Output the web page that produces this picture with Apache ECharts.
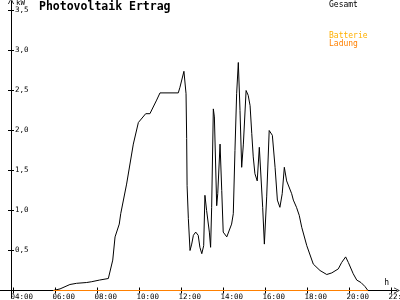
<!DOCTYPE html>
<html><head><meta charset="utf-8">
<script src="https://cdn.jsdelivr.net/npm/echarts@6/dist/echarts.min.js"></script>
<style>html,body{margin:0;padding:0;background:#fff}#c{width:400px;height:300px}</style>
</head><body><div id="c"></div>
<script>
const chartTitle = 'Photovoltaik Ertrag';
const yUnit = 'kW';
const xUnit = 'h';
const timeTicks = [4, 6, 8, 10, 12, 14, 16, 18, 20, 22];
const kwTicks = [0.5, 1, 1.5, 2, 2.5, 3, 3.5];

const gesamtHours = [5.92, 6.24, 6.71, 7.03, 7.51, 7.75, 8.11, 8.54, 8.62, 8.75, 8.86, 9.06, 9.13, 9.41, 9.73, 9.97, 10.32, 10.52, 10.84, 11.0, 11.87, 11.95, 12.14, 12.24, 12.27, 12.29, 12.35, 12.43, 12.51, 12.59, 12.70, 12.82, 12.90, 12.99, 13.08, 13.14, 13.22, 13.35, 13.41, 13.46, 13.54, 13.59, 13.70, 13.75, 13.86, 13.94, 14.01, 14.18, 14.41, 14.49, 14.57, 14.65, 14.73, 14.81, 14.89, 14.97, 15.10, 15.20, 15.29, 15.37, 15.44, 15.52, 15.63, 15.73, 15.81, 15.89, 15.97, 16.08, 16.20, 16.35, 16.48, 16.59, 16.71, 16.82, 16.92, 17.03, 17.27, 17.35, 17.50, 17.63, 17.75, 17.99, 18.30, 18.62, 18.94, 19.18, 19.49, 19.65, 19.84, 19.97, 20.20, 20.37, 20.57, 20.76, 20.90];
const gesamtKw = [0, 0.02, 0.075, 0.09, 0.10, 0.11, 0.13, 0.15, 0.17, 0.38, 0.67, 0.83, 0.96, 1.33, 1.83, 2.10, 2.21, 2.21, 2.38, 2.47, 2.47, 2.54, 2.74, 2.46, 1.90, 1.31, 0.90, 0.50, 0.58, 0.69, 0.73, 0.69, 0.54, 0.46, 0.56, 1.19, 1.00, 0.73, 0.54, 1.04, 2.27, 2.17, 1.06, 1.21, 1.83, 1.25, 0.73, 0.67, 0.83, 0.96, 1.75, 2.46, 2.85, 2.25, 1.54, 1.83, 2.50, 2.44, 2.31, 1.96, 1.67, 1.46, 1.37, 1.79, 1.81, 1.04, 0.58, 1.17, 2.00, 1.94, 1.54, 1.13, 1.04, 1.21, 1.54, 1.37, 1.21, 1.13, 1.04, 0.94, 0.79, 0.56, 0.33, 0.25, 0.20, 0.22, 0.27, 0.35, 0.42, 0.35, 0.21, 0.13, 0.10, 0.05, 0];

const batterieHours = [];
const batterieKw = [];
const ladungHours = [5.92, 20.90];
const ladungKw = [0, 0];

const pairs = (xs, ys) => xs.map((x, i) => [x, ys[i]]);
const pad2 = v => (v < 10 ? '0' : '') + v;
const mono = 'DejaVu Sans Mono';
const arrow = 'path://M5,0 L10,10 L8.6,10 L5,2.2 L1.4,10 L0,10 Z';

const chart = echarts.init(document.getElementById('c'), null, {renderer: 'canvas'});
chart.setOption({
  animation: false,
  backgroundColor: '#fff',
  title: {
    text: chartTitle, left: 39, top: 1, padding: 0,
    textStyle: {fontFamily: mono, fontWeight: 'bold', fontSize: 11.5, color: '#000'}
  },
  legend: [
    {data: [{name: 'Gesamt', textStyle: {color: '#000'}}], left: 324, top: 1, padding: 0,
     icon: 'none', itemWidth: 0, itemHeight: 8, selectedMode: false,
     textStyle: {fontFamily: mono, fontSize: 8, lineHeight: 8}},
    {data: [{name: 'Batterie', textStyle: {color: '#ffb000'}}, {name: 'Ladung', textStyle: {color: '#ff8000'}}],
     orient: 'vertical', left: 324, top: 32, padding: 0, itemGap: 0,
     icon: 'none', itemWidth: 0, itemHeight: 8, selectedMode: false,
     textStyle: {fontFamily: mono, fontSize: 8, lineHeight: 8}}
  ],
  grid: {left: 0, right: 3, top: 1, bottom: 2, containLabel: false, outerBoundsMode: 'none'},
  xAxis: [{
    type: 'value', min: 3.381, max: 22.286, position: 'bottom',
    name: xUnit, nameLocation: 'end', nameGap: -8,
    nameTextStyle: {fontFamily: mono, fontSize: 8, color: '#000', align: 'right', verticalAlign: 'bottom', padding: [0, 0, 4, 0]},
    axisLine: {onZero: true, lineStyle: {color: '#000', width: 1}, symbol: ['none', arrow], symbolSize: [6, 6]},
    axisTick: {customValues: timeTicks, length: 3, lineStyle: {color: '#000'}},
    axisLabel: {customValues: timeTicks, fontFamily: mono, fontSize: 7.5, color: '#000', margin: -5,
      align: 'left', padding: [0, 0, 0, -2.5], hideOverlap: false, formatter: v => pad2(v) + ':00'},
    splitLine: {show: false}
  }, {
    type: 'value', min: 3.381, max: 22.286, position: 'bottom',
    axisLine: {show: false, onZero: true},
    axisTick: {customValues: timeTicks, inside: true, length: 3, lineStyle: {color: '#000'}},
    axisLabel: {show: false}, splitLine: {show: false}
  }],
  yAxis: [{
    type: 'value', min: -0.09375, max: 3.61875, position: 'left', offset: -11,
    name: yUnit, nameLocation: 'end', nameGap: 0,
    nameTextStyle: {fontFamily: mono, fontSize: 7.5, color: '#000', align: 'left', verticalAlign: 'top', padding: [0, 0, 0, 5]},
    axisLine: {onZero: false, lineStyle: {color: '#000', width: 1}, symbol: ['none', arrow], symbolSize: [6, 6]},
    axisTick: {customValues: kwTicks, length: 3, lineStyle: {color: '#000'}},
    axisLabel: {customValues: kwTicks, inside: true, margin: 4, fontFamily: mono, fontSize: 7.5, color: '#000',
      formatter: v => v.toFixed(1).replace('.', ',')},
    splitLine: {show: false}
  }, {
    type: 'value', min: -0.09375, max: 3.61875, position: 'left', offset: -11,
    axisLine: {show: false, onZero: false},
    axisTick: {customValues: kwTicks, inside: true, length: 3, lineStyle: {color: '#000'}},
    axisLabel: {show: false}, splitLine: {show: false}
  }],
  series: [
    {name: 'Gesamt', type: 'line', data: pairs(gesamtHours, gesamtKw), showSymbol: false, symbol: 'none',
     lineStyle: {color: '#000', width: 1}, itemStyle: {color: '#000'}},
    {name: 'Batterie', type: 'line', data: pairs(batterieHours, batterieKw), showSymbol: false, symbol: 'none',
     lineStyle: {color: '#ffb000', width: 1}, itemStyle: {color: '#ffb000'}},
    {name: 'Ladung', type: 'line', data: pairs(ladungHours, ladungKw), showSymbol: false, symbol: 'none',
     lineStyle: {color: '#ff8000', width: 1.2}, itemStyle: {color: '#ff8000'}}
  ]
});
</script></body></html>
